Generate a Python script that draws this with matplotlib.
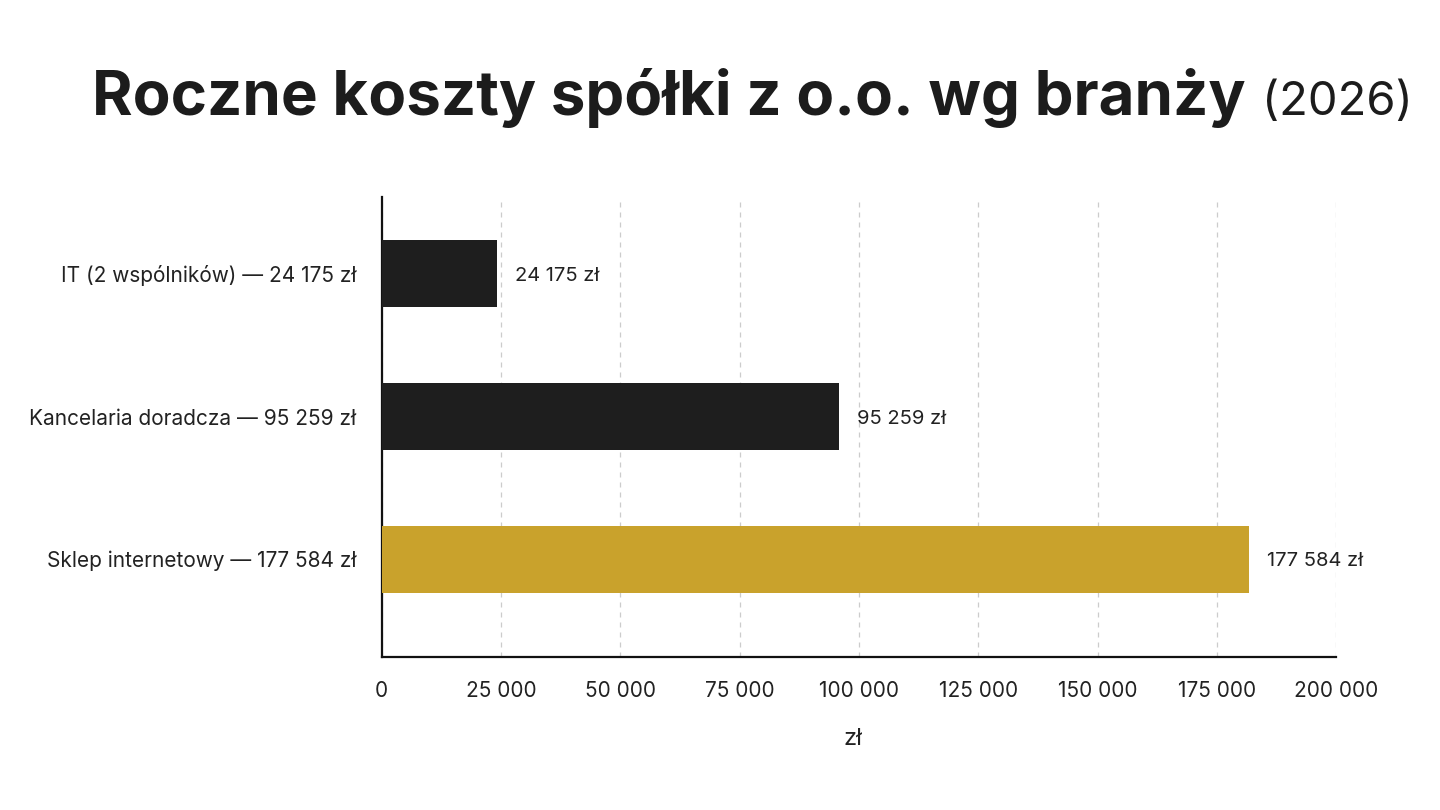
import matplotlib
matplotlib.use("Agg")
import matplotlib.pyplot as plt
from matplotlib.ticker import FuncFormatter

plt.rcParams['font.family'] = ['Inter', 'DejaVu Sans']

# dane
categories = ["IT (2 wspólników) — 24 175 zł",
              "Kancelaria doradcza — 95 259 zł",
              "Sklep internetowy — 177 584 zł"]
bar_values = [24175, 95800, 181800]   # długości słupków
value_labels = ["24 175 zł", "95 259 zł", "177 584 zł"]
bar_colors = ["#1e1e1e", "#1e1e1e", "#c9a22c"]
x_ticks = [0, 25000, 50000, 75000, 100000, 125000, 150000, 175000, 200000]

fig = plt.figure(figsize=(14.4, 8.1), dpi=100)
ax = fig.add_axes([0.265, 0.189, 0.663, 0.568])

ypos = list(range(len(categories)))
ax.barh(ypos, bar_values, height=0.47, color=bar_colors, zorder=3)
for y, v, lab in zip(ypos, bar_values, value_labels):
    ax.text(v + 3700, y + 0.015, lab, va='center', ha='left', fontsize=14.5, color='#222222')

ax.set_yticks(ypos)
ax.set_yticklabels(categories, fontsize=15, color='#222222')
ax.set_ylim(2.685, -0.54)
ax.set_xlim(0, 200000)
ax.set_xticks(x_ticks)
ax.xaxis.set_major_formatter(FuncFormatter(lambda v, p: f"{int(v):,}".replace(",", " ")))
ax.tick_params(axis='x', length=0, labelsize=15, colors='#222222', pad=17)
ax.tick_params(axis='y', length=0, pad=18)
ax.set_xlabel("zł", fontsize=17, color='#222222', labelpad=20)
ax.xaxis.set_label_coords(0.494, -0.155)

ax.grid(axis='x', linestyle=(0, (4, 4)), color='#cccccc', linewidth=0.9, zorder=0)
for s in ['top', 'right']:
    ax.spines[s].set_visible(False)
for s in ['left', 'bottom']:
    ax.spines[s].set_color('#111111')
    ax.spines[s].set_linewidth(1.6)

# tytuł: część pogrubiona + rok zwykłą czcionką
t1 = fig.text(0.064, 0.858, "Roczne koszty spółki z o.o. wg branży",
              fontsize=44.5, fontweight='bold', color='#1c1c1c', va='baseline')
fig.canvas.draw()
bb = t1.get_window_extent(fig.canvas.get_renderer())
fig.text(bb.x1 / fig.bbox.width + 0.011, 0.858, "(2026)",
         fontsize=34, color='#1c1c1c', va='baseline')

fig.savefig("out.png", dpi=100, facecolor='white')
